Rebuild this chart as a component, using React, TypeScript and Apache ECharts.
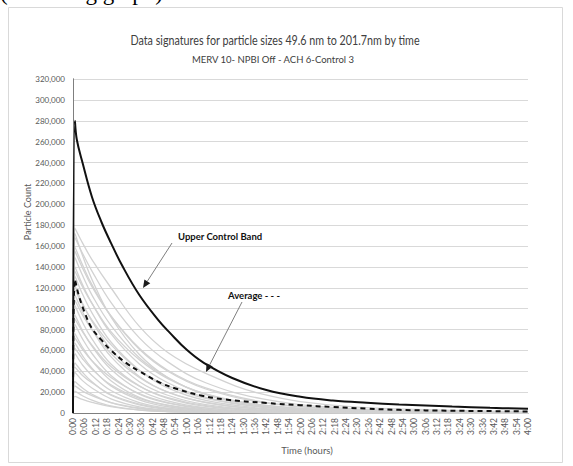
import { useEffect, useRef } from "react";
import * as echarts from "echarts";

// ---- texts ----
const TOP_CUT_TEXT = "(following graph)";
const TITLE = "Data signatures for particle sizes 49.6 nm to 201.7nm by time";
const SUBTITLE = "MERV 10- NPBI Off - ACH 6-Control 3";
const Y_NAME = "Particle Count";
const X_NAME = "Time (hours)";
const UCL_LABEL = "Upper Control Band";
const AVG_LABEL = "Average - - -";

// ---- axes ----
const Y_MIN = 0;
const Y_MAX = 320000;
const Y_STEP = 20000;
const X_MIN = 0; // minutes
const X_MAX = 240;
const X_STEP = 6;

// ---- data (time in minutes) ----
const uclTimes = [0, 1, 2, 5, 10, 15, 20, 26, 35, 45, 51, 60, 69, 84, 102, 120, 137, 155, 172, 200, 220, 240];
const uclValues = [0, 280000, 262000, 240000, 207000, 183000, 163000, 141000, 113000, 89000, 77000, 60500, 48000, 33500, 22000, 15500, 12000, 9800, 8200, 6200, 5000, 4000];

const avgTimes = [0, 1, 3, 6, 10, 15, 20, 28, 35, 46, 55, 67, 80, 102, 120, 137, 155, 172, 200, 240];
const avgValues = [0, 128000, 113000, 97000, 81000, 70000, 60000, 48000, 40000, 29000, 23000, 17000, 13000, 9600, 7500, 5700, 4200, 3000, 2200, 1500];

// individual runs (values in thousands of particles), sampled at grayTimes
const grayTimes = [0, 1, 5, 10, 20, 35, 50, 70, 100, 140, 190, 240];
const grayRunsK = [
  [0, 177, 163, 147, 120, 83, 58, 38, 18, 7, 3, 1.5],
  [0, 172, 151, 128, 92, 56, 34, 17.6, 6.6, 1.8, 0.8, 0.5],
  [0, 168, 153, 136, 106, 72, 49, 29, 13.5, 5, 2, 1],
  [0, 159, 142, 123, 93, 61, 40, 23, 10, 4, 1.5, 1],
  [0, 155, 139, 121, 93, 62, 41, 24, 10.7, 3.6, 1.2, 0.7],
  [0, 149, 132, 113, 84, 53, 34, 18, 7.5, 3, 1.3, 0.8],
  [0, 140, 123, 105, 76, 47, 29, 15, 6, 2.2, 1, 0.6],
  [0, 136, 121, 105, 78, 51, 33, 18.4, 7.7, 2.4, 1, 0.6],
  [0, 131, 114, 96, 68, 41, 24, 12, 4.5, 1.6, 0.8, 0.5],
  [0, 122, 105, 88, 61, 35, 20, 10, 3.5, 1.3, 0.7, 0.5],
  [0, 118, 104, 89, 65.5, 41, 26, 14, 5.5, 1.6, 0.8, 0.5],
  [0, 113, 97, 80, 54, 30, 17, 8, 2.7, 1.1, 0.6, 0.4],
  [0, 108, 94, 80, 57, 34, 20, 10.3, 3.7, 1.2, 0.6, 0.4],
  [0, 103, 87, 71, 47, 26, 14, 6.3, 2, 1, 0.5, 0.4],
  [0, 94, 79, 64, 42, 22, 11.5, 5, 1.5, 0.8, 0.5, 0.3],
  [0, 90, 78, 65, 44.5, 25.6, 14.7, 7, 2.3, 0.9, 0.5, 0.3],
  [0, 85, 71, 57, 36, 18, 9.4, 3.8, 1.2, 0.7, 0.4, 0.3],
  [0, 76, 63, 50, 31, 15, 7.6, 3, 1, 0.6, 0.4, 0.3],
  [0, 72, 61, 50, 34, 18.5, 10, 4.6, 1.4, 0.7, 0.4, 0.3],
  [0, 67, 55, 43, 26, 12.6, 6, 2.3, 0.9, 0.5, 0.3, 0.2],
  [0, 62, 52, 42, 27, 14, 7.2, 3, 1, 0.5, 0.3, 0.2],
  [0, 57, 46, 36, 21.5, 10, 4.6, 1.7, 0.8, 0.5, 0.3, 0.2],
  [0, 48, 39, 30, 17, 7.8, 3.5, 1.3, 0.7, 0.4, 0.3, 0.2],
  [0, 44, 36, 29, 17.7, 8.6, 4.2, 1.6, 0.7, 0.4, 0.3, 0.2],
  [0, 39, 31, 24, 13.6, 5.9, 2.6, 1, 0.6, 0.4, 0.3, 0.2],
  [0, 30, 24, 18, 10, 4.2, 1.8, 0.8, 0.5, 0.3, 0.2, 0.2],
  [0, 26, 21, 16.6, 10, 4.8, 2.2, 0.9, 0.5, 0.3, 0.2, 0.1],
  [0, 21, 16.5, 12.3, 6.8, 2.8, 1.2, 0.6, 0.4, 0.3, 0.2, 0.1],
  [0, 16, 13, 10.2, 6.2, 2.9, 1.4, 0.6, 0.3, 0.2, 0.1, 0.1],
];

const FONT = "Lato, 'Open Sans', sans-serif";

function fmtTime(v: number) {
  const h = Math.floor(v / 60);
  const m = Math.round(v - h * 60);
  return `${h}:${String(m).padStart(2, "0")}`;
}

function arrow(x1: number, y1: number, x2: number, y2: number) {
  const ang = Math.atan2(y2 - y1, x2 - x1);
  const len = 8;
  const w = 3.5;
  const bx = x2 - len * Math.cos(ang);
  const by = y2 - len * Math.sin(ang);
  const px = -Math.sin(ang) * w;
  const py = Math.cos(ang) * w;
  return [
    {
      type: "line",
      shape: { x1, y1, x2: bx, y2: by },
      style: { stroke: "#7f7f7f", lineWidth: 1 },
      z: 100,
    },
    {
      type: "polygon",
      shape: {
        points: [
          [x2, y2],
          [bx + px, by + py],
          [bx - px, by - py],
        ],
      },
      style: { fill: "#1a1a1a" },
      z: 100,
    },
  ];
}

export default function App() {
  const ref = useRef<HTMLDivElement>(null);

  useEffect(() => {
    if (!ref.current) return;
    const chart = echarts.init(ref.current, undefined, { renderer: "svg" });

    const graySeries = grayRunsK.map((run, idx) => ({
      name: `Run ${idx + 1}`,
      type: "line",
      data: grayTimes.map((t, i) => [t, run[i] * 1000]),
      smooth: 0.4,
      showSymbol: false,
      symbol: "none",
      lineStyle: { color: "#d2d2d2", width: 1.3 },
      silent: true,
      z: 2,
    }));

    const option: any = {
      animation: false,
      backgroundColor: "#ffffff",
      grid: { left: 73, right: 45, top: 79, bottom: 53, containLabel: false },
      xAxis: [
        {
          type: "value",
          min: X_MIN,
          max: X_MAX,
          interval: X_STEP,
          axisLine: { show: false },
          axisTick: { show: false },
          splitLine: { show: false },
          axisLabel: {
            rotate: 90,
            formatter: (v: number) => fmtTime(v),
            fontFamily: FONT,
            fontSize: 8.5,
            color: "#595959",
            margin: 5,
          },
        },
        {
          type: "value",
          position: "top",
          min: X_MIN,
          max: X_MAX,
          axisLine: { show: true, lineStyle: { color: "#7f7f7f", width: 1 } },
          axisTick: { show: false },
          axisLabel: { show: false },
          splitLine: { show: false },
        },
      ],
      yAxis: [
        {
          type: "value",
          min: Y_MIN,
          max: Y_MAX,
          interval: Y_STEP,
          axisLine: { show: true, lineStyle: { color: "#7f7f7f", width: 1 } },
          axisTick: { show: false },
          splitLine: { show: true, lineStyle: { color: "#d9d9d9", width: 1 } },
          axisLabel: {
            formatter: (v: number) => v.toLocaleString("en-US"),
            fontFamily: FONT,
            fontSize: 8,
            color: "#595959",
            margin: 8,
          },
        },
        {
          type: "value",
          position: "right",
          min: Y_MIN,
          max: Y_MAX,
          axisLine: { show: true, lineStyle: { color: "#7f7f7f", width: 1 } },
          axisTick: { show: false },
          axisLabel: { show: false },
          splitLine: { show: false },
        },
      ],
      series: [
        ...graySeries,
        {
          name: "Average",
          type: "line",
          data: avgTimes.map((t, i) => [t, avgValues[i]]),
          smooth: 0.4,
          symbol: "none",
          lineStyle: { color: "#111111", width: 2, type: [5, 4] },
          z: 5,
        },
        {
          name: "Upper Control Band",
          type: "line",
          data: uclTimes.map((t, i) => [t, uclValues[i]]),
          smooth: 0.4,
          symbol: "none",
          lineStyle: { color: "#111111", width: 2 },
          z: 6,
        },
      ],
      graphic: [
        {
          type: "rect",
          shape: { x: 8.5, y: 7.5, width: 554, height: 455 },
          style: { fill: "none", stroke: "#d9d9d9", lineWidth: 1 },
          z: -1,
        },
        {
          type: "text",
          x: 0,
          y: -8,
          style: {
            text: TOP_CUT_TEXT,
            font: "23px 'Liberation Serif', 'DejaVu Serif', serif",
            fill: "#000000",
            align: "left",
            verticalAlign: "middle",
          },
        },
        {
          type: "text",
          x: 275,
          y: 40,
          scaleX: 0.86,
          style: {
            text: TITLE,
            fontFamily: FONT,
            fontSize: 12.5,
            fill: "#404040",
            align: "center",
            verticalAlign: "middle",
          },
        },
        {
          type: "text",
          x: 273,
          y: 59,
          style: {
            text: SUBTITLE,
            fontFamily: FONT,
            fontSize: 9.5,
            fill: "#404040",
            align: "center",
            verticalAlign: "middle",
          },
        },
        {
          type: "text",
          x: 27,
          y: 212,
          rotation: Math.PI / 2,
          style: {
            text: Y_NAME,
            fontFamily: FONT,
            fontSize: 9,
            fill: "#595959",
            align: "center",
            verticalAlign: "middle",
          },
        },
        {
          type: "text",
          x: 307,
          y: 450,
          style: {
            text: X_NAME,
            fontFamily: FONT,
            fontSize: 9.5,
            fill: "#595959",
            align: "center",
            verticalAlign: "middle",
          },
        },
        {
          type: "text",
          x: 178,
          y: 236,
          style: {
            text: UCL_LABEL,
            fontFamily: FONT,
            fontSize: 9.5,
            fontWeight: "bold",
            fill: "#111111",
            align: "left",
            verticalAlign: "middle",
          },
          z: 100,
        },
        {
          type: "text",
          x: 228,
          y: 295,
          style: {
            text: AVG_LABEL,
            fontFamily: FONT,
            fontSize: 9.5,
            fontWeight: "bold",
            fill: "#111111",
            align: "left",
            verticalAlign: "middle",
          },
          z: 100,
        },
        ...arrow(172, 243, 143, 288),
        ...arrow(242, 302, 206, 372),
      ],
    };

    chart.setOption(option);
    return () => chart.dispose();
  }, []);

  return (
    <div
      ref={ref}
      style={{ position: "fixed", left: 0, top: 0, width: 573, height: 466 }}
    />
  );
}
